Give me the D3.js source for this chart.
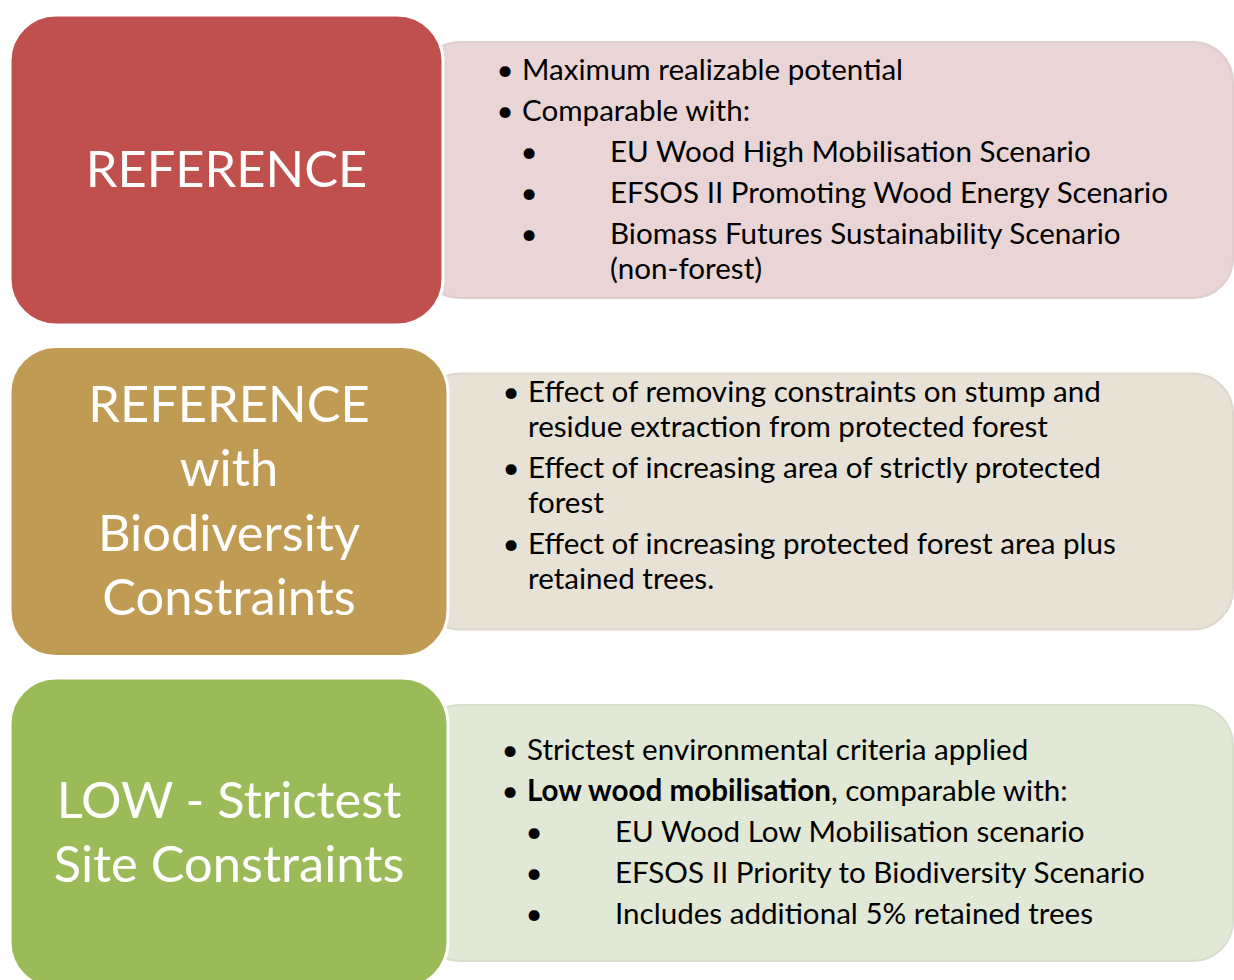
<!DOCTYPE html>
<html><head><meta charset="utf-8">
<script src="https://cdn.jsdelivr.net/npm/d3@7"></script>
<style>html,body{margin:0;padding:0;background:#fff;}svg{display:block;}</style>
</head><body>
<svg id="chart" width="1234" height="980"></svg>
<script>
// ---- data ----
const categories = ["REFERENCE", "REFERENCE with Biodiversity Constraints", "LOW - Strictest Site Constraints"];
const titleLines = [
  ["REFERENCE"],
  ["REFERENCE", "with", "Biodiversity", "Constraints"],
  ["LOW - Strictest", "Site Constraints"]
];
// level 1 = main bullet, 2 = sub bullet, 0 = continuation of main item, 3 = continuation of sub item
const descLevels = [
  [1, 1, 2, 2, 2, 3],
  [1, 0, 1, 0, 1, 0],
  [1, 1, 2, 2, 2]
];
const descTexts = [
  ["Maximum realizable potential", "Comparable with:", "EU Wood High Mobilisation Scenario",
   "EFSOS II Promoting Wood Energy Scenario", "Biomass Futures Sustainability Scenario", "(non-forest)"],
  ["Effect of removing constraints on stump and", "residue extraction from protected forest",
   "Effect of increasing area of strictly protected", "forest",
   "Effect of increasing protected forest area plus", "retained trees."],
  ["Strictest environmental criteria applied", "|Low wood mobilisation|, comparable with:",
   "EU Wood Low Mobilisation scenario", "EFSOS II Priority to Biodiversity Scenario",
   "Includes additional 5% retained trees"]
];

// ---- styles / layout ----
const boxColors = ["#c0504d", "#bf9b53", "#9bbb59"];
const panelColors = ["#e9d5d5", "#e8e1d5", "#e1e8d5"];
const FONT = "Lato, 'Open Sans', sans-serif";
const W = 1234;

const svg = d3.select("#chart");
const y = d3.scaleBand().domain(categories).range([15, 988]).paddingInner(21.5 / 331.5).paddingOuter(0);
const boxColor = d3.scaleOrdinal().domain(categories).range(boxColors);
const panelColor = d3.scaleOrdinal().domain(categories).range(panelColors);

const boxRight = [443, 448, 448];
const textX = [522, 528, 527];
const firstLine = [55, 45.5, 72];

// font fitting
function measure(txt, size, weight) {
  const t = svg.append("text").attr("font-family", FONT).attr("font-size", size)
    .attr("font-weight", weight || 400).text(txt);
  const w = t.node().getComputedTextLength();
  t.remove();
  return w;
}
const bodySize = 0.985 * Math.max(20, Math.min(34, 100 * 387 / measure("Maximum realizable potential", 100)));
const titleSize = 1.05 * Math.max(40, Math.min(62, 100 * 268 / measure("REFERENCE", 100)));

const rows = svg.selectAll("g.row").data(categories).join("g").attr("class", "row");

// panels
rows.append("rect")
  .attr("x", 420)
  .attr("y", d => y(d) + 27)
  .attr("width", W - 1 - 420)
  .attr("height", 256)
  .attr("rx", 40).attr("ry", 40)
  .attr("fill", d => panelColor(d))
  .attr("stroke", d => d3.color(panelColor(d)).darker(0.12))
  .attr("stroke-width", 2);

// boxes
rows.append("rect")
  .attr("x", 10)
  .attr("y", d => y(d))
  .attr("width", (d, i) => boxRight[i] - 10)
  .attr("height", y.bandwidth())
  .attr("rx", 46).attr("ry", 46)
  .attr("fill", d => boxColor(d))
  .attr("stroke", "#fff")
  .attr("stroke-width", 3);

// titles
rows.each(function (d, i) {
  const g = d3.select(this);
  const lines = titleLines[i];
  const cx = (10 + boxRight[i]) / 2;
  const cy = y(d) + y.bandwidth() / 2;
  g.selectAll("text.title").data(lines).join("text")
    .attr("class", "title")
    .attr("x", cx)
    .attr("y", (t, k) => cy + 17 + (k - (lines.length - 1) / 2) * 64.5)
    .attr("text-anchor", "middle")
    .attr("font-family", FONT)
    .attr("font-size", titleSize)
    .attr("fill", "#fff")
    .text(t => t);
});

// descriptions
rows.each(function (d, i) {
  const g = d3.select(this);
  let cy = y(d) + firstLine[i];
  const x0 = textX[i];
  descLevels[i].forEach((lvl, k) => {
    if (k > 0) cy += ((lvl === 0 || lvl === 3) ? 35 : 41);
    const base = cy + 10;
    if (lvl === 1) {
      g.append("text").attr("x", x0 - 17).attr("y", base).attr("text-anchor", "middle")
        .attr("font-family", FONT).attr("font-size", bodySize).attr("fill", "#000").text("\u2022");
    } else if (lvl === 2) {
      g.append("text").attr("x", x0 + 7).attr("y", base).attr("text-anchor", "middle")
        .attr("font-family", FONT).attr("font-size", bodySize).attr("fill", "#000").text("\u2022");
    }
    const tx = (lvl === 2 || lvl === 3) ? x0 + 88 : x0;
    const t = g.append("text").attr("x", tx).attr("y", base)
      .attr("font-family", FONT).attr("font-size", bodySize).attr("fill", "#000");
    const parts = descTexts[i][k].split("|");
    parts.forEach((p, m) => {
      if (p.length) t.append("tspan").attr("font-weight", m % 2 === 1 ? 700 : 400).text(p);
    });
  });
});
</script>
</body></html>
